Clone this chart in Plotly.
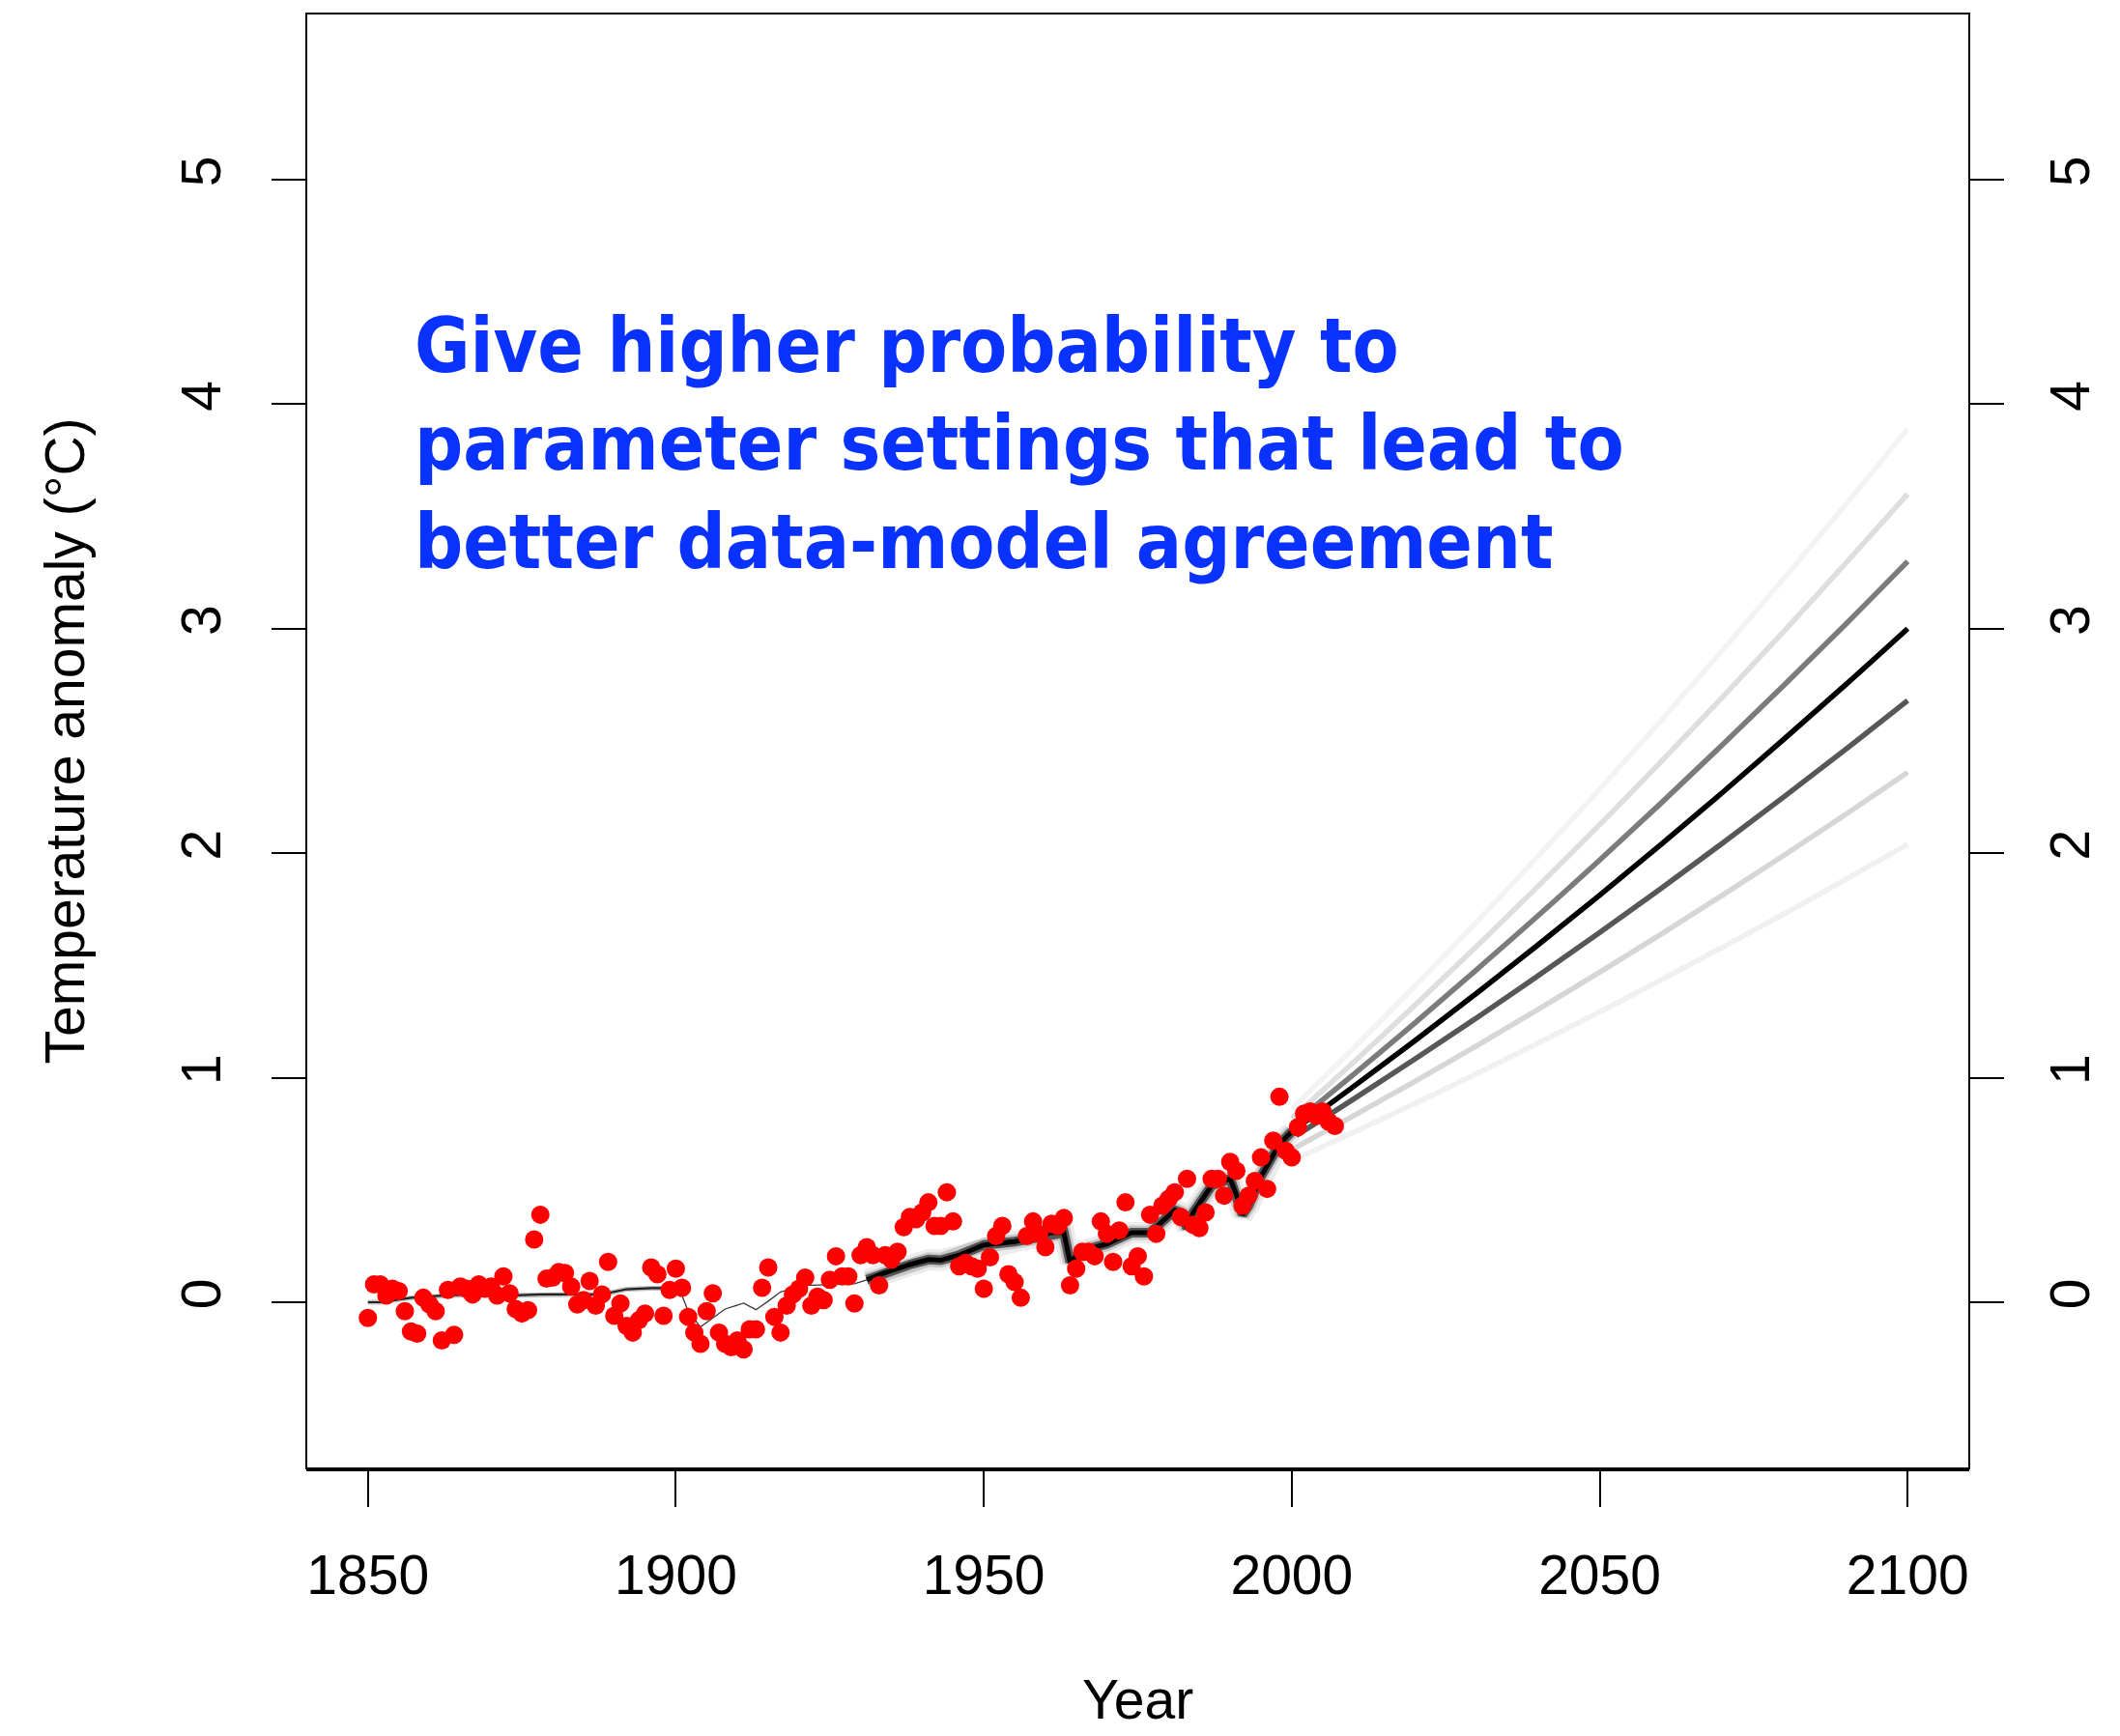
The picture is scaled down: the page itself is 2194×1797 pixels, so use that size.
import plotly.graph_objects as go

# Observed annual temperature anomalies (degC)
obs_years = list(range(1850, 2008))
obs_anom = [
    -0.07, 0.08, 0.08, 0.03, 0.06, 0.05, -0.04, -0.13, -0.14, 0.02,      # 1850s
    -0.01, -0.04, -0.17, 0.055, -0.145, 0.07, 0.06, 0.035, 0.08, 0.06,   # 1860s
    0.07, 0.03, 0.115, 0.04, -0.03, -0.05, -0.035, 0.28, 0.39, 0.105,    # 1870s
    0.11, 0.135, 0.13, 0.07, -0.01, 0.01, 0.095, -0.015, 0.035, 0.18,    # 1880s
    -0.06, -0.005, -0.105, -0.135, -0.08, -0.05, 0.155, 0.125, -0.06, 0.055,  # 1890s
    0.15, 0.065, -0.065, -0.135, -0.185, -0.04, 0.04, -0.135, -0.185, -0.20,   # 1900s
    -0.17, -0.21, -0.12, -0.12, 0.065, 0.155, -0.065, -0.135, -0.015, 0.035,   # 1910s
    0.06, 0.11, -0.015, 0.025, 0.01, 0.10, 0.205, 0.115, 0.115, -0.005,  # 1920s
    0.21, 0.245, 0.21, 0.075, 0.21, 0.19, 0.225, 0.335, 0.38, 0.37,      # 1930s
    0.40, 0.445, 0.34, 0.34, 0.49, 0.36, 0.16, 0.175, 0.16, 0.15,        # 1940s
    0.06, 0.20, 0.295, 0.34, 0.125, 0.09, 0.02, 0.295, 0.36, 0.305,      # 1950s
    0.245, 0.35, 0.34, 0.375, 0.075, 0.15, 0.225, 0.225, 0.205, 0.36,    # 1960s
    0.305, 0.18, 0.32, 0.445, 0.16, 0.205, 0.115, 0.39, 0.305, 0.43,     # 1970s
    0.46, 0.49, 0.38, 0.55, 0.345, 0.33, 0.40, 0.55, 0.55, 0.475,        # 1980s
    0.625, 0.585, 0.43, 0.475, 0.54, 0.645, 0.505, 0.72, 0.915, 0.675,   # 1990s
    0.645, 0.78, 0.84, 0.85, 0.83, 0.85, 0.805, 0.785,                   # 2000s
]

# Model hindcast (best-fit run), three stretches drawn with different weights
early_years = [1850, 1852, 1857, 1862, 1867, 1873, 1878, 1883, 1888, 1892, 1896, 1899, 1901]
early_anom = [0.0, 0.0, 0.02, 0.03, 0.035, 0.03, 0.035, 0.035, 0.035, 0.058, 0.063, 0.063, 0.03]

mid_years = [1901, 1902, 1904, 1906, 1908, 1911, 1913, 1915, 1917, 1921, 1925, 1929, 1931]
mid_anom = [0.03, -0.04, -0.11, -0.07, -0.03, -0.004, -0.033, 0.005, 0.046, 0.075, 0.08, 0.082, 0.10]

late_years = [1931, 1934, 1938, 1941, 1943, 1946, 1950, 1955, 1958, 1961, 1963, 1964,
              1966, 1970, 1974, 1977, 1979, 1981, 1982, 1983, 1984, 1987, 1990,
              1991, 1992, 1993, 1995, 1998, 2000]
late_anom = [0.10, 0.132, 0.168, 0.19, 0.187, 0.21, 0.255, 0.27, 0.285, 0.31, 0.31, 0.18,
             0.23, 0.26, 0.31, 0.31, 0.36, 0.41, 0.40, 0.33, 0.40, 0.52, 0.55,
             0.48, 0.39, 0.43, 0.56, 0.705, 0.76]

# Projections 2000-2100 for seven probability-weighted parameter settings
proj_years = list(range(2000, 2101, 10))
proj_p3 = [0.86, 1.131, 1.408, 1.694, 1.986, 2.285, 2.592, 2.906, 3.227, 3.555, 3.89]
proj_p2 = [0.82, 1.068, 1.323, 1.585, 1.853, 2.127, 2.409, 2.697, 2.991, 3.293, 3.60]
proj_p1 = [0.79, 1.014, 1.244, 1.481, 1.722, 1.970, 2.224, 2.485, 2.751, 3.022, 3.30]
proj_c = [0.76, 0.960, 1.165, 1.376, 1.592, 1.813, 2.040, 2.272, 2.510, 2.752, 3.00]
proj_m1 = [0.73, 0.904, 1.083, 1.266, 1.454, 1.647, 1.844, 2.046, 2.253, 2.464, 2.68]
proj_m2 = [0.68, 0.830, 0.984, 1.142, 1.304, 1.470, 1.640, 1.814, 1.992, 2.174, 2.36]
proj_m3 = [0.63, 0.756, 0.885, 1.018, 1.154, 1.293, 1.436, 1.582, 1.731, 1.884, 2.04]

x_ticks = [1850, 1900, 1950, 2000, 2050, 2100]
y_ticks = [0, 1, 2, 3, 4, 5]
x_range = [1840, 2110]
y_range = [-0.74, 5.74]

AXIS_FONT = dict(family="Liberation Sans, Arial, Helvetica, sans-serif", size=57, color="black")

fig = go.Figure()

proj_styles = [
    (proj_p3, "#f3f3f3"), (proj_m3, "#f0f0f0"),
    (proj_p2, "#dedede"), (proj_m2, "#d6d6d6"),
    (proj_p1, "#7b7b7b"), (proj_m1, "#575757"),
    (proj_c, "#000000"),
]
for vals, col in proj_styles:
    fig.add_trace(go.Scatter(x=proj_years, y=vals, mode="lines",
                             line=dict(color=col, width=5.5, shape="spline", smoothing=1.0),
                             hoverinfo="skip", showlegend=False))

# late hindcast: grey halo under a black core
for col, w in [("#ececec", 22), ("#c8c8c8", 15), ("#555555", 10), ("#000000", 5)]:
    fig.add_trace(go.Scatter(x=late_years, y=late_anom, mode="lines",
                             line=dict(color=col, width=w),
                             hoverinfo="skip", showlegend=False))
fig.add_trace(go.Scatter(x=mid_years, y=mid_anom, mode="lines",
                         line=dict(color="#3a3a3a", width=1.3),
                         hoverinfo="skip", showlegend=False))
for col, w in [("#bdbdbd", 5), ("#222222", 2.2)]:
    fig.add_trace(go.Scatter(x=early_years, y=early_anom, mode="lines",
                             line=dict(color=col, width=w),
                             hoverinfo="skip", showlegend=False))

fig.add_trace(go.Scatter(x=obs_years, y=obs_anom, mode="markers",
                         marker=dict(color="#ff0000", size=19, line=dict(width=0)),
                         hoverinfo="skip", showlegend=False))
# dummy trace to attach the right-hand axis
fig.add_trace(go.Scatter(x=[x_range[0]], y=[y_range[0]], yaxis="y2", mode="markers",
                         marker=dict(opacity=0), hoverinfo="skip", showlegend=False))

common_y = dict(range=y_range, tickmode="array", tickvals=y_ticks,
                ticktext=[str(v) for v in y_ticks], ticks="outside", ticklen=35,
                tickwidth=2, tickcolor="black", tickfont=AXIS_FONT, tickangle=-90,
                showgrid=False, zeroline=False, showline=False, automargin=False)

fig.update_layout(
    width=2194, height=1797,
    margin=dict(l=317, r=156, t=14, b=277, autoexpand=False),
    paper_bgcolor="white", plot_bgcolor="white",
    xaxis=dict(range=x_range, tickmode="array", tickvals=x_ticks,
               ticktext=[str(v) for v in x_ticks], ticks="outside", ticklen=37,
               tickwidth=2, tickcolor="black", tickfont=AXIS_FONT,
               ticklabelstandoff=22, automargin=False,
               showgrid=False, zeroline=False, showline=True, linecolor="black",
               linewidth=2.5, mirror=False),
    yaxis=dict(**common_y, side="left", ticklabelstandoff=30),
    yaxis2=dict(**common_y, side="right", overlaying="y", ticklabelstandoff=20),
    shapes=[dict(type="rect", xref="paper", yref="paper", x0=0, x1=1, y0=0, y1=1,
                 line=dict(color="black", width=2), layer="above")],
    annotations=[
        dict(text="Give higher probability to<br>parameter settings that lead to<br>better data-model agreement",
             xref="x", yref="y", x=1857.3, y=4.46, xanchor="left", yanchor="top",
             align="left", showarrow=False,
             font=dict(family="DejaVu Sans Condensed, DejaVu Sans, sans-serif",
                       size=78, color="#0a32ff", weight="bold")),
        dict(text="Year", xref="paper", yref="paper", x=0.5, y=-0.159,
             xanchor="center", yanchor="middle", showarrow=False, font=AXIS_FONT),
        dict(text="Temperature anomaly (°C)", xref="paper", yref="paper",
             x=-0.145, y=0.5, xanchor="center", yanchor="middle", textangle=-90,
             showarrow=False, font=AXIS_FONT),
    ],
)

fig.write_html("out.html")
